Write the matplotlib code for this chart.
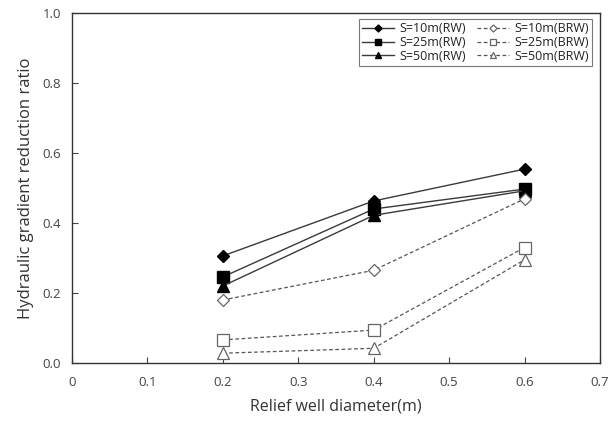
import matplotlib
matplotlib.use("Agg")
import matplotlib.pyplot as plt

# relief well diameter (m)
diameter = [0.2, 0.4, 0.6]

# gradient reduction ratio, relief well (RW)
rw_10 = [0.306, 0.463, 0.554]
rw_25 = [0.246, 0.440, 0.497]
rw_50 = [0.220, 0.422, 0.492]

# gradient reduction ratio, relief well with barrier (BRW)
brw_10 = [0.180, 0.265, 0.469]
brw_25 = [0.066, 0.094, 0.330]
brw_50 = [0.028, 0.042, 0.295]

plt.rcParams['font.family'] = ['Open Sans', 'DejaVu Sans']

fig = plt.figure(figsize=(6.16, 4.24), dpi=100)
ax = fig.add_axes([72 / 616, 1 - 363 / 424, 528 / 616, 350 / 424])

line_col = '#3a3a3a'
ax.plot(diameter, rw_10, '-', color=line_col, lw=1, marker='D', ms=6,
        mfc='black', mec='black', label='S=10m(RW)')
ax.plot(diameter, rw_25, '-', color=line_col, lw=1, marker='s', ms=8,
        mfc='black', mec='black', label='S=25m(RW)')
ax.plot(diameter, rw_50, '-', color=line_col, lw=1, marker='^', ms=8,
        mfc='black', mec='black', label='S=50m(RW)')

brw_col = '#555555'
ax.plot(diameter, brw_10, '--', color=brw_col, lw=0.9, dashes=(3, 2), marker='D', ms=6,
        mfc='white', mec='#666666', mew=0.9, label='S=10m(BRW)')
ax.plot(diameter, brw_25, '--', color=brw_col, lw=0.9, dashes=(3, 2), marker='s', ms=8,
        mfc='white', mec='#666666', mew=0.9, label='S=25m(BRW)')
ax.plot(diameter, brw_50, '--', color=brw_col, lw=0.9, dashes=(3, 2), marker='^', ms=8,
        mfc='white', mec='#666666', mew=0.9, label='S=50m(BRW)')

ax.set_xlim(0, 0.7)
ax.set_ylim(0, 1.0)
ax.set_xticks([0, 0.1, 0.2, 0.3, 0.4, 0.5, 0.6, 0.7])
ax.set_xticklabels(['0', '0.1', '0.2', '0.3', '0.4', '0.5', '0.6', '0.7'])
ax.set_yticks([0, 0.2, 0.4, 0.6, 0.8, 1.0])
ax.set_yticklabels(['0.0', '0.2', '0.4', '0.6', '0.8', '1.0'])
ax.tick_params(direction='in', length=4, width=0.8, labelsize=9.5,
               labelcolor='#444444', colors='#444444', pad=8)
ax.tick_params(axis='x', pad=9)
for s in ax.spines.values():
    s.set_linewidth(1.0)
    s.set_color('#333333')

ax.set_xlabel('Relief well diameter(m)', fontsize=11.5, color='#333333', labelpad=7)
ax.set_ylabel('Hydraulic gradient reduction ratio', fontsize=12, color='#333333', labelpad=6)

leg = ax.legend(ncol=2, loc='upper right', bbox_to_anchor=(0.985, 0.982), fontsize=9,
                frameon=True, fancybox=False, edgecolor='#555555', handlelength=2.6,
                columnspacing=0.9, handletextpad=0.4, borderpad=0.25, labelspacing=0.05,
                borderaxespad=0, markerscale=0.6)
leg.get_frame().set_linewidth(0.8)
for t in leg.get_texts():
    t.set_color('#222222')

fig.savefig('out.png', dpi=100)
